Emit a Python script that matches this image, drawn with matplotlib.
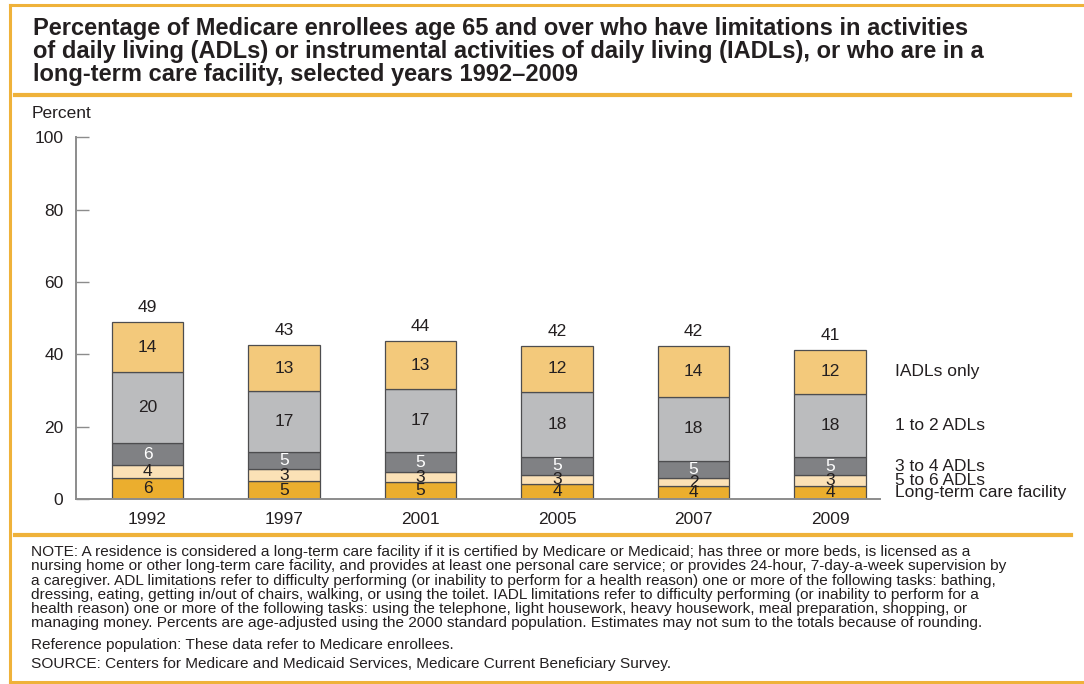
import matplotlib
matplotlib.use("Agg")
import matplotlib.pyplot as plt
from matplotlib.lines import Line2D
import numpy as np

plt.rcParams['font.family'] = ['Liberation Sans', 'DejaVu Sans']

# ---------------- data ----------------
years = ["1992", "1997", "2001", "2005", "2007", "2009"]
series_names = ["Long-term care facility", "5 to 6 ADLs", "3 to 4 ADLs",
                "1 to 2 ADLs", "IADLs only"]
ltc = [5.7, 4.9, 4.6, 4.2, 3.5, 3.6]
adl56 = [3.6, 3.3, 2.9, 2.5, 2.3, 3.0]
adl34 = [6.2, 4.9, 5.4, 4.9, 4.7, 4.9]
adl12 = [19.6, 16.7, 17.4, 18.1, 17.8, 17.6]
iadl = [13.75, 12.8, 13.4, 12.5, 13.9, 12.2]
ltc_lbl = [6, 5, 5, 4, 4, 4]
adl56_lbl = [4, 3, 3, 3, 2, 3]
adl34_lbl = [6, 5, 5, 5, 5, 5]
adl12_lbl = [20, 17, 17, 18, 18, 18]
iadl_lbl = [14, 13, 13, 12, 14, 12]
totals_lbl = [49, 43, 44, 42, 42, 41]
yticks = [0, 20, 40, 60, 80, 100]

title_lines = [
    "Percentage of Medicare enrollees age 65 and over who have limitations in activities",
    "of daily living (ADLs) or instrumental activities of daily living (IADLs), or who are in a",
    "long-term care facility, selected years 1992\u20132009",
]
note_lines = [
    "NOTE: A residence is considered a long-term care facility if it is certified by Medicare or Medicaid; has three or more beds, is licensed as a",
    "nursing home or other long-term care facility, and provides at least one personal care service; or provides 24-hour, 7-day-a-week supervision by",
    "a caregiver. ADL limitations refer to difficulty performing (or inability to perform for a health reason) one or more of the following tasks: bathing,",
    "dressing, eating, getting in/out of chairs, walking, or using the toilet. IADL limitations refer to difficulty performing (or inability to perform for a",
    "health reason) one or more of the following tasks: using the telephone, light housework, heavy housework, meal preparation, shopping, or",
    "managing money. Percents are age-adjusted using the 2000 standard population. Estimates may not sum to the totals because of rounding.",
]
ref_line = "Reference population: These data refer to Medicare enrollees."
source_line = "SOURCE: Centers for Medicare and Medicaid Services, Medicare Current Beneficiary Survey."

# ---------------- style ----------------
colors = ["#EBAE2E", "#FBE1B6", "#808184", "#BBBCBE", "#F3C97B"]
label_colors = ["#231F20", "#231F20", "#FFFFFF", "#231F20", "#231F20"]
frame_col = "#EFB23A"
text_col = "#231F20"
fs_axis = 12.5
fs_title = 17
fs_note = 11.1

W, H = 1084, 684
fig = plt.figure(figsize=(W / 100, H / 100), dpi=100)

def fx(px):
    return px / W

def fy(py):
    return 1 - py / H

# frame
fig.add_artist(Line2D([fx(9.5), fx(9.5)], [fy(5), fy(682)], color=frame_col, lw=2.2))
fig.add_artist(Line2D([fx(9.5), 1.0], [fy(5), fy(5)], color=frame_col, lw=2.2))
fig.add_artist(Line2D([fx(9.5), 1.0], [fy(682), fy(682)], color=frame_col, lw=2.2))
# separators
fig.add_artist(Line2D([fx(15), fx(1070)], [fy(95), fy(95)], color=frame_col, lw=3))
fig.add_artist(Line2D([fx(15), fx(1071)], [fy(535), fy(535)], color=frame_col, lw=3))

# title
for i, t in enumerate(title_lines):
    fig.text(fx(33), fy(34.5 + 23.5 * i), t, fontsize=fs_title, fontweight='bold',
             color=text_col, va='baseline', ha='left')

# notes
for i, t in enumerate(note_lines):
    fig.text(fx(31), fy(556 + 14.3 * i), t, fontsize=fs_note, color=text_col,
             va='baseline', ha='left')
fig.text(fx(31), fy(649), ref_line, fontsize=fs_note, color=text_col, va='baseline')
fig.text(fx(31), fy(668), source_line, fontsize=fs_note, color=text_col, va='baseline')

# axes
ax_left, ax_right = 76, 880
ax_bottom, ax_top = 499, 137.3
ax = fig.add_axes([fx(ax_left), fy(ax_bottom), fx(ax_right - ax_left),
                   (ax_bottom - ax_top) / H])

x = np.arange(len(years))
width = 0.525
series = [ltc, adl56, adl34, adl12, iadl]
series_lbls = [ltc_lbl, adl56_lbl, adl34_lbl, adl12_lbl, iadl_lbl]
bottom = np.zeros(len(years))
centers_last = []
for vals, lbls, c, lc in zip(series, series_lbls, colors, label_colors):
    vals = np.array(vals)
    ax.bar(x, vals, width, bottom=bottom, color=c, edgecolor="#4D4D4F",
           linewidth=0.9, zorder=2)
    for xi, b, v, l in zip(x, bottom, vals, lbls):
        ax.text(xi, b + v / 2, str(l), ha='center', va='center',
                fontsize=fs_axis, color=lc, zorder=3)
    centers_last.append(bottom[-1] + vals[-1] / 2)
    bottom = bottom + vals

for xi, top, t in zip(x, bottom, totals_lbl):
    ax.annotate(str(t), (xi, top), xytext=(0, 5), textcoords='offset points',
                ha='center', va='bottom', fontsize=fs_axis, color=text_col)

# right-hand series labels
for name, yc in zip(series_names, centers_last):
    ax.annotate(name, (1, yc), xycoords=('axes fraction', 'data'),
                xytext=(11, 0), textcoords='offset points', ha='left',
                va='center', fontsize=fs_axis, color=text_col, annotation_clip=False)

ax.set_xlim(-0.524, 5.366)
ax.set_ylim(0, 100)
ax.set_yticks(yticks)
ax.set_yticklabels([str(v) for v in yticks])
ax.set_xticks(x)
ax.set_xticklabels(years)
ax.tick_params(axis='y', direction='in', length=9.5, width=1.0, color="#8C8C8C",
               pad=9, labelsize=fs_axis, labelcolor=text_col)
ax.tick_params(axis='x', length=0, pad=9, labelsize=fs_axis, labelcolor=text_col)
for s in ['top', 'right']:
    ax.spines[s].set_visible(False)
for s in ['left', 'bottom']:
    ax.spines[s].set_color("#8C8C8C")
    ax.spines[s].set_linewidth(1.4)
ax.set_facecolor('none')

fig.text(fx(32), fy(118.5), "Percent", fontsize=fs_axis, color=text_col,
         va='baseline', ha='left')

fig.savefig("out.png", dpi=100)
